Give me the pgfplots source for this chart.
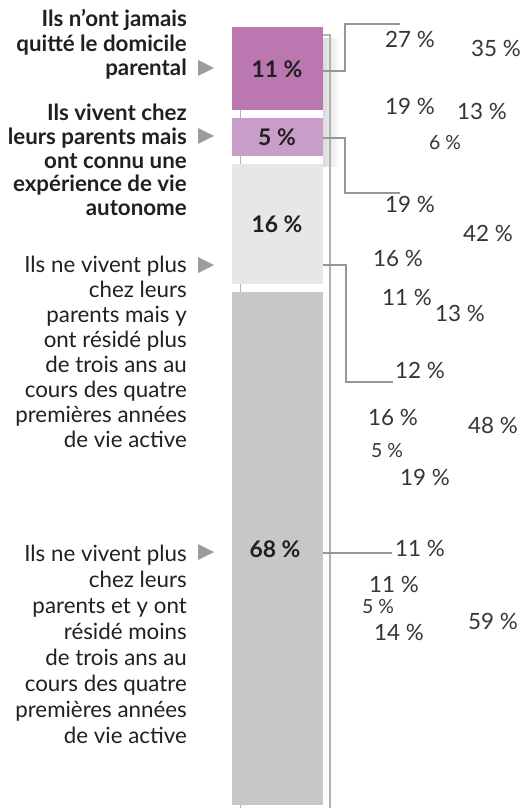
\documentclass[border=0pt]{standalone}
\usepackage{pgfplots}
\pgfplotsset{compat=1.18}
\usepackage{fontspec}
\setmainfont{Lato}
\definecolor{mag}{RGB}{187,119,176}
\definecolor{lpur}{RGB}{200,157,200}
\definecolor{lgr}{RGB}{230,231,232}
\definecolor{mgr}{RGB}{198,199,201}
\definecolor{lead}{RGB}{150,150,153}
\definecolor{txt}{RGB}{35,31,32}
\definecolor{num}{RGB}{55,53,54}
\definecolor{tri}{RGB}{155,155,160}
\definecolor{back}{RGB}{178,178,181}
\newcommand{\LB}{\fontsize{22.4}{27}\bfseries\selectfont}
\newcommand{\LR}{\fontsize{22.4}{27}\selectfont}
\newcommand{\NR}{\fontsize{22.5}{26}\selectfont}
\newcommand{\NS}{\fontsize{19.5}{22}\selectfont}
\newcommand{\BL}{\fontsize{23}{26}\bfseries\selectfont}
\begin{document}
\begin{tikzpicture}
% ---- bar axis: y in percent (27 px offset, 7.54 px per percent, 8 px gaps)
\begin{axis}[
  width=520bp, height=808bp, scale only axis,
  xmin=0, xmax=520, ymin=-3.581, ymax=103.581, y dir=reverse,
  hide axis, clip=false]
% shadow
\shade[left color=black!14, right color=white, draw=none]
  (axis cs:323,1.5) rectangle (axis cs:340,18.5);
% back panel edges
\addplot[draw=back, line width=1.8bp] coordinates {(323,1.06) (330,1.06) (330,103.581)};
\addplot[draw=back, line width=1bp] coordinates {(240,1.06) (240,103.581)};
% segments: 11 %, 5 %, 16 %, 68 %
\addplot[fill=mag, draw=none] coordinates {(232,0) (323,0) (323,11) (232,11)};
\addplot[fill=lpur, draw=none] coordinates {(232,12.06) (323,12.06) (323,17.06) (232,17.06)};
\addplot[fill=lgr, draw=none] coordinates {(232,18.12) (323,18.12) (323,34.12) (232,34.12)};
\addplot[fill=mgr, draw=none] coordinates {(232,35.18) (323,35.18) (323,103.18) (232,103.18)};
\end{axis}
% ---- annotation axis in pixel units
\begin{axis}[
  width=520bp, height=808bp, scale only axis,
  xmin=0, xmax=520, ymin=0, ymax=808, y dir=reverse,
  hide axis, clip=false]
% leaders
\addplot[draw=lead, line width=2bp] coordinates {(323,71) (345,71) (345,24) (400,24)};
\addplot[draw=lead, line width=2bp] coordinates {(323,138) (345,138) (345,193) (400,193)};
\addplot[draw=lead, line width=2bp] coordinates {(323,265) (346,265) (346,382) (393,382)};
\addplot[draw=lead, line width=2bp] coordinates {(323,553) (392,553)};
% triangles
\addplot[fill=tri, draw=none] coordinates {(198,60) (214,68) (198,76)};
\addplot[fill=tri, draw=none] coordinates {(198,128) (214,136) (198,144)};
\addplot[fill=tri, draw=none] coordinates {(198,257) (214,265) (198,273)};
\addplot[fill=tri, draw=none] coordinates {(198,544) (214,552) (198,560)};
% bar labels
\node[anchor=base, font=\BL, text=txt] at (axis cs:277,78) {11 \%};
\node[anchor=base, font=\BL, text=txt] at (axis cs:277,146) {5 \%};
\node[anchor=base, font=\BL, text=txt] at (axis cs:277,233) {16 \%};
\node[anchor=base, font=\BL, text=txt] at (axis cs:275,557) {68 \%};
% left labels
\begin{scope}[every node/.style={anchor=base east, text=txt, inner sep=0pt}]
\node[font=\LB] at (axis cs:187,27) {Ils n’ont jamais};
\node[font=\LB] at (axis cs:187,51.5) {quitté le domicile};
\node[font=\LB] at (axis cs:187,76) {parental};
\node[font=\LB] at (axis cs:187,121) {Ils vivent chez};
\node[font=\LB] at (axis cs:187,145) {leurs parents mais};
\node[font=\LB] at (axis cs:187,168.5) {ont connu une};
\node[font=\LB] at (axis cs:187,192) {expérience de vie};
\node[font=\LB] at (axis cs:187,215.5) {autonome};
\node[font=\LR] at (axis cs:187,272) {Ils ne vivent plus};
\node[font=\LR] at (axis cs:187,297) {chez leurs};
\node[font=\LR] at (axis cs:187,322) {parents mais y};
\node[font=\LR] at (axis cs:187,347) {ont résidé plus};
\node[font=\LR] at (axis cs:187,372) {de trois ans au};
\node[font=\LR] at (axis cs:187,397) {cours des quatre};
\node[font=\LR] at (axis cs:187,422) {premières années};
\node[font=\LR] at (axis cs:187,447) {de vie active};
\node[font=\LR] at (axis cs:187,561) {Ils ne vivent plus};
\node[font=\LR] at (axis cs:187,587) {chez leurs};
\node[font=\LR] at (axis cs:187,613) {parents et y ont};
\node[font=\LR] at (axis cs:187,639) {résidé moins};
\node[font=\LR] at (axis cs:187,665) {de trois ans au};
\node[font=\LR] at (axis cs:187,691) {cours des quatre};
\node[font=\LR] at (axis cs:187,717) {premières années};
\node[font=\LR] at (axis cs:187,743) {de vie active};
\end{scope}
% right-hand percentages
\begin{scope}[every node/.style={anchor=base west, text=num, inner sep=0pt}]
\node[font=\NR] at (axis cs:385,48) {27 \%};
\node[font=\NR] at (axis cs:471,57) {35 \%};
\node[font=\NR] at (axis cs:385,115) {19 \%};
\node[font=\NR] at (axis cs:457,120) {13 \%};
\node[font=\NS] at (axis cs:429,150) {6 \%};
\node[font=\NR] at (axis cs:385,213) {19 \%};
\node[font=\NR] at (axis cs:463,242) {42 \%};
\node[font=\NR] at (axis cs:373,266) {16 \%};
\node[font=\NR] at (axis cs:382,305) {11 \%};
\node[font=\NR] at (axis cs:435,321) {13 \%};
\node[font=\NR] at (axis cs:395,378) {12 \%};
\node[font=\NR] at (axis cs:368,425) {16 \%};
\node[font=\NR] at (axis cs:468,433) {48 \%};
\node[font=\NS] at (axis cs:371,457) {5 \%};
\node[font=\NR] at (axis cs:400,485) {19 \%};
\node[font=\NR] at (axis cs:395,556) {11 \%};
\node[font=\NR] at (axis cs:369,592) {11 \%};
\node[font=\NS] at (axis cs:362,613) {5 \%};
\node[font=\NR] at (axis cs:468,629) {59 \%};
\node[font=\NR] at (axis cs:374,640) {14 \%};
\end{scope}
\end{axis}
\pgfresetboundingbox
\path (0,0) rectangle (520bp,808bp);
\end{tikzpicture}
\end{document}
